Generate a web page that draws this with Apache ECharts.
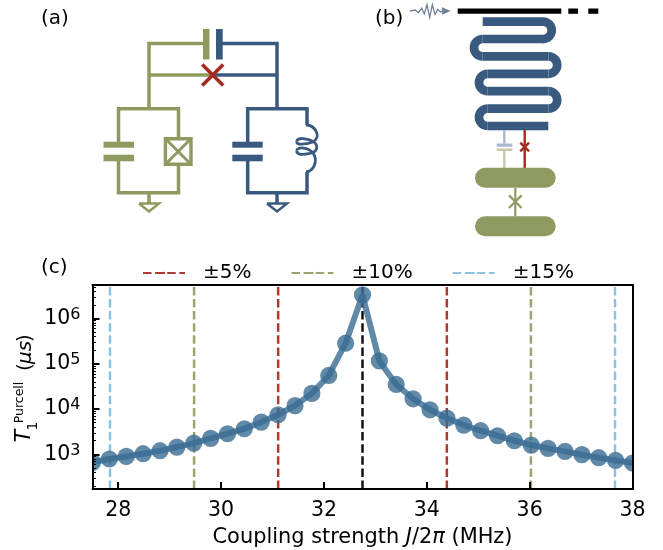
<!DOCTYPE html>
<html><head><meta charset="utf-8">
<style>html,body{margin:0;padding:0;background:#fff}#c{width:663px;height:550px}</style>
<script src="https://cdn.jsdelivr.net/npm/echarts@6/dist/echarts.min.js"></script>
</head><body><div id="c"></div>
<script>
const couplingMHz = [27.5,27.828,28.156,28.484,28.813,29.141,29.469,29.797,30.125,30.453,30.781,31.109,31.438,31.766,32.094,32.422,32.75,33.078,33.406,33.734,34.063,34.391,34.719,35.047,35.375,35.703,36.031,36.359,36.688,37.016,37.344,37.672,38];
const purcellT1 = [667,790,903,1034,1205,1452,1778,2254,2858,3681,5166,7500,11900,22200,55300,285000,3330000,116000,35000,16900,9660,6320,4440,3330,2580,2000,1607,1356,1165,984,844,737,644];
const sweetSpot = [32.75];
const lines5 = [31.11,34.39];
const lines10 = [29.475,36.025];
const lines15 = [27.84,37.66];
const xTicks = [28,30,32,34,36,38];
const yTicks = [1e3,1e4,1e5,1e6];
const yMinorMultipliers = [2,3,4,5,6,7,8,9];
const yMinorDecades = [1e2,1e3,1e4,1e5,1e6];
const X_MIN=27.5,X_MAX=38,Y_MIN=172,Y_MAX=5.5e6;
const OLIVE='#8e9a5f',NAVY='#39597f',RED='#a42a22',SKY='#8cc2e0',BLACK='#000';
const FONT='DejaVu Sans';
const FS=20;
const TICK_FS=20.5;
const minorTicks=[];
yMinorDecades.forEach(d=>yMinorMultipliers.forEach(m=>{const v=d*m;if(v>Y_MIN&&v<Y_MAX)minorTicks.push(v);}));

function vline(name,xs,color){
  const data=[];
  xs.forEach((x,i)=>{ if(i) data.push([x,'-']); data.push([x,Y_MIN]); data.push([x,Y_MAX]); });
  return {name,type:'line',data,symbol:'none',showSymbol:false,silent:true,animation:false,z:2,connectNulls:false,
    lineStyle:{color,width:2.5,type:[8.5,3.6]},itemStyle:{color}};
}

// ---- schematic helpers (decorative panels a, b) ----
const G=[];
const pl=(pts,stroke,w)=>G.push({type:'polyline',silent:true,shape:{points:pts},style:{stroke,lineWidth:w,fill:null,lineJoin:'miter'}});
const rc=(x0,y0,x1,y1,fill,r)=>G.push({type:'rect',silent:true,shape:{x:x0,y:y0,width:x1-x0,height:y1-y0,r:r||0},style:{fill}});
const cross=(cx,cy,h,stroke,w)=>{pl([[cx-h,cy-h],[cx+h,cy+h]],stroke,w);pl([[cx-h,cy+h],[cx+h,cy-h]],stroke,w);};
const bez=(p,stroke,w)=>{ // p: start point then triples of control points
  for(let i=1;i+2<p.length;i+=3){
    G.push({type:'bezierCurve',silent:true,shape:{x1:p[i-1][0],y1:p[i-1][1],cpx1:p[i][0],cpy1:p[i][1],cpx2:p[i+1][0],cpy2:p[i+1][1],x2:p[i+2][0],y2:p[i+2][1]},style:{stroke,lineWidth:w,fill:null}});
  }
};
const turn=(cx,cy,r,right,stroke,w)=>G.push({type:'arc',silent:true,shape:{cx,cy,r,startAngle:right?-Math.PI/2:Math.PI/2,endAngle:right?Math.PI/2:Math.PI*1.5,clockwise:true},style:{stroke,lineWidth:w,fill:null}});
const txt=(x,y,t,size)=>G.push({type:'text',silent:true,x,y,style:{text:t,font:`${size}px "${FONT}"`,fill:'#000',textAlign:'left',textVerticalAlign:'middle'}});

txt(41,18.5,'(a)',FS); txt(375,18.5,'(b)',FS); txt(41,268,'(c)',FS);

// Panel (a)
pl([[203,43.5],[149,43.5],[149,108.7]],OLIVE,3.5);
pl([[149,75],[212,75]],OLIVE,3.5);
pl([[222,43.5],[277,43.5],[277,108.7]],NAVY,3.5);
pl([[212,75],[277,75]],NAVY,3.5);
rc(203,29,209.5,59.5,OLIVE); rc(216,29,222.7,59.5,NAVY);
cross(212.7,75,10.5,RED,3.6);
// left loop
pl([[118.5,144],[118.5,108.7],[178.5,108.7],[178.5,140]],OLIVE,3.5);
pl([[118.5,158],[118.5,192.7],[178.5,192.7],[178.5,163]],OLIVE,3.5);
rc(103.5,141.7,134,147.7,OLIVE); rc(103.5,154.7,134,161.3,OLIVE);
G.push({type:'rect',silent:true,shape:{x:165.4,y:138.7,width:25.6,height:25.6},style:{stroke:OLIVE,lineWidth:3.4,fill:'#fff'}});
cross(178.2,151.5,12,OLIVE,3);
pl([[149,192.7],[149,203]],OLIVE,3.5);
pl([[139,203.5],[159,203.5],[149,211.5],[139,203.5]],OLIVE,2.5);
// right loop
pl([[247.7,144],[247.7,108.7],[307,108.7],[307,125]],NAVY,3.5);
pl([[247.7,158],[247.7,192.7],[307,192.7],[307,172]],NAVY,3.5);
rc(232.3,141.7,262.7,147.7,NAVY); rc(232.3,154.7,262.7,161.3,NAVY);
bez([[306,125],[315,125],[321.7,136.7],[313.3,141.7],[305,145],[296.7,145],[296.7,141.7],[296.7,136.7],[308.3,138.3],[313.3,141.7],[318.3,145],[318.3,151.7],[310,153.3],[301.7,155],[296.7,155],[296.7,150.7],[296.7,146.7],[308.3,146.7],[313.3,153.3],[318.3,161.7],[313.3,171.7],[306,171.7]],NAVY,2.8);
pl([[277,192.7],[277,203]],NAVY,3.5);
pl([[267,203.5],[287,203.5],[277,211.5],[267,203.5]],NAVY,2.5);

// Panel (b)
const wave=[[150,33],[165,30],[175,38],[185,25],[193,42],[201,14],[209,52],[217,14],[225,43],[233,28],[241,36],[248,33]].map(p=>[360+p[0]/3,p[1]/3]);
pl(wave,'#6d8197',1.3);
G.push({type:'polygon',silent:true,shape:{points:[[442,7.3],[450.7,11],[442,14.7]]},style:{fill:'#6d8197'}});
rc(457.7,8.5,561.3,13.8,BLACK); rc(568.3,8.5,578,13.8,BLACK); rc(588.3,8.5,598.3,13.8,BLACK);
const R=8.7,MW=8.7;
pl([[482.7,21.7],[543,21.7]],NAVY,MW); turn(543,30.35,R,true,NAVY,MW);
pl([[543,39],[482.7,39]],NAVY,MW); turn(482.7,47.7,R,false,NAVY,MW);
pl([[482.7,56.4],[548.5,56.4]],NAVY,MW); turn(548.5,65.1,R,true,NAVY,MW);
pl([[548.5,73.8],[487.7,73.8]],NAVY,MW); turn(487.7,82.5,R,false,NAVY,MW);
pl([[487.7,91.2],[548.5,91.2]],NAVY,MW); turn(548.5,99.9,R,true,NAVY,MW);
pl([[548.5,108.6],[487.7,108.6]],NAVY,MW); turn(487.7,117.3,R,false,NAVY,MW);
pl([[487.7,126],[548.3,126]],NAVY,MW);
pl([[504.3,130],[504.3,143.5]],'#a9b7cf',2.4);
rc(496.7,143.5,512.3,146.7,'#a9b7cf'); rc(496.7,148.5,512.3,151,'#c5caa8');
pl([[504.3,151],[504.3,168]],'#c5caa8',2.4);
pl([[524.7,130],[524.7,168]],RED,2.4);
cross(524.7,147,4.4,RED,2.4);
rc(475,167.7,555.7,187.7,OLIVE,10); rc(475,216.3,555.7,236.3,OLIVE,10);
pl([[515.3,187.7],[515.3,216.3]],OLIVE,2.2);
cross(515.3,201.7,6.3,OLIVE,2.2);

// rotated y label of panel (c)
const rot=Math.PI/2;
const ylab=(x,y,t,size,style)=>G.push({type:'text',silent:true,x,y,rotation:rot,style:{text:t,font:`${style||''} ${size}px "${FONT}"`,fill:'#000',textAlign:'center',textVerticalAlign:'middle'}});
ylab(24.5,436,'T',20.5,'italic');
ylab(33.5,426,'1',14);
ylab(20,402.5,'Purcell',12.5);
ylab(26,367,'(',FS); ylab(26,352.5,'μs',FS,'italic'); ylab(26,338,')',FS);

const chart=echarts.init(document.getElementById('c'),null,{renderer:'canvas'});
const hiddenAxisBits={axisTick:{show:false},axisLabel:{show:false},splitLine:{show:false}};
const spine={lineStyle:{color:'#000',width:2}};
chart.setOption({
  animation:false,
  backgroundColor:'#fff',
  textStyle:{fontFamily:FONT},
  grid:{left:92.5,right:30.5,top:285,bottom:61,containLabel:false},
  legend:{show:true,left:137,top:258,itemWidth:42,itemHeight:3,itemGap:39,selectedMode:false,
    data:['±5%','±10%','±15%'],
    textStyle:{fontFamily:FONT,fontSize:FS,color:'#000',padding:[0,0,0,13]}},
  xAxis:[{type:'value',min:X_MIN,max:X_MAX,position:'bottom',z:10,
      axisLine:Object.assign({onZero:false},spine),
      axisTick:{show:true,inside:true,length:7,lineStyle:{color:'#000',width:2},customValues:xTicks},
      axisLabel:{show:true,customValues:xTicks,fontFamily:FONT,fontSize:TICK_FS,color:'#000',margin:11},
      splitLine:{show:false},
      name:'{r|Coupling strength }{i|J}{r|/2}{i|π}{r| (MHz)}',nameLocation:'middle',nameGap:38,
      nameTextStyle:{rich:{r:{fontFamily:FONT,fontSize:20.9,color:'#000'},i:{fontFamily:FONT,fontSize:20.9,fontStyle:'italic',color:'#000'}}}
    },
    Object.assign({type:'value',min:X_MIN,max:X_MAX,position:'top',z:10,axisLine:Object.assign({onZero:false},spine)},hiddenAxisBits)
  ],
  yAxis:[{type:'log',logBase:10,min:Y_MIN,max:Y_MAX,position:'left',z:10,
      axisLine:Object.assign({onZero:false},spine),
      axisTick:{show:true,inside:true,length:7,lineStyle:{color:'#000',width:2},customValues:yTicks},
      axisLabel:{show:true,customValues:yTicks,margin:12,
        formatter:v=>'{b|10}{s|'+Math.round(Math.log10(v))+'}',
        rich:{b:{fontFamily:FONT,fontSize:TICK_FS,color:'#000',verticalAlign:'middle',lineHeight:24},s:{fontFamily:FONT,fontSize:16,color:'#000',verticalAlign:'top',lineHeight:17.4}}},
      splitLine:{show:false}},
    {type:'log',logBase:10,min:Y_MIN,max:Y_MAX,position:'left',z:10,
      axisLine:{show:false},
      axisTick:{show:true,inside:true,length:3.5,lineStyle:{color:'#000',width:1},customValues:minorTicks},
      axisLabel:{show:false},splitLine:{show:false}},
    Object.assign({type:'log',logBase:10,min:Y_MIN,max:Y_MAX,position:'right',z:10,axisLine:Object.assign({onZero:false},spine)},hiddenAxisBits)
  ],
  series:[
    vline('±5%',lines5,'#ad3a33'),
    vline('±10%',lines10,'#9aa56f'),
    vline('±15%',lines15,SKY),
    vline('sweet spot',sweetSpot,'#111'),
    {name:'T1',type:'line',data:couplingMHz.map((x,i)=>[x,purcellT1[i]]),symbol:'none',silent:true,z:3,
     lineStyle:{color:'#3a6b92',width:6,opacity:0.8}},
    {name:'T1 points',type:'custom',z:4,clip:true,silent:true,
     data:couplingMHz.map((x,i)=>[x,purcellT1[i]]),
     renderItem:(p,api)=>{const c=api.coord([api.value(0),api.value(1)]);
       return {type:'circle',shape:{cx:c[0],cy:c[1],r:8.6},style:{fill:'#3a6b92',opacity:0.8}};}}
  ],
  graphic:{elements:G}
});
</script></body></html>
